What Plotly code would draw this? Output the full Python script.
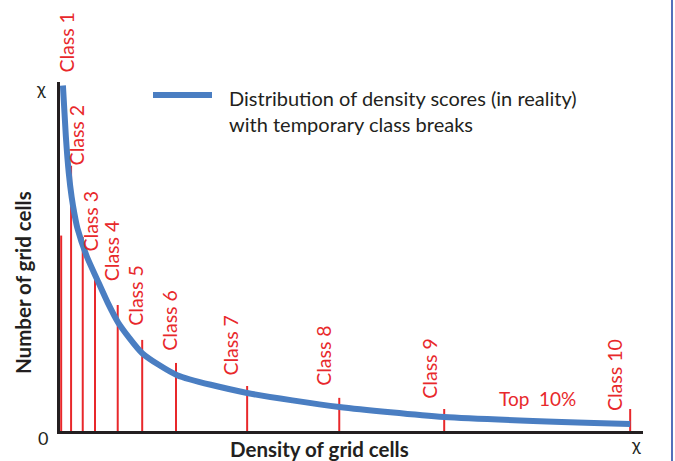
import plotly.graph_objects as go

# ---- data (arbitrary units: x = density of grid cells, y = number of grid cells, 100 = χ) ----
curve_x = [0.5, 1.0, 1.5, 2.0, 2.5, 3.0, 4.6, 6.4, 8.2, 10.0, 14.1, 20.1, 32.1, 47.9, 65.9, 97.8]
curve_y = [99.0, 84.5, 74.0, 67.0, 62.0, 58.0, 50.0, 43.3, 36.7, 31.0, 22.3, 16.0, 10.9, 6.9, 4.0, 2.0]

break_x = [0.2, 1.9, 3.9, 6.0, 9.9, 14.1, 19.9, 32.1, 47.9, 65.9, 97.8]
break_h = [56.0, 76.0, 55.6, 46.1, 36.1, 26.1, 19.5, 12.9, 9.5, 6.3, 6.3]

class_labels = ["Class 1", "Class 2", "Class 3", "Class 4", "Class 5",
                "Class 6", "Class 7", "Class 8", "Class 9", "Class 10"]

legend_text = "Distribution of density scores (in reality)<br>with temporary class breaks"
x_title = "Density of grid cells"
y_title = "Number of grid cells"

# ---- styles ----
RED = "#e8282b"
BLUE = "#4a7ec2"
DARK = "#231f20"
FONT = "Lato"

# label placement (layout only)
LABEL_XSHIFT = [-5, -6, -4, -6, -7, -6, -17, -16, -15, -15]
LABEL_Y = [102, 75.6, 51.0, 42.4, 29.5, 22.3, 15.2, 12.3, 8.6, 5.2]

Y_MAX = 100.0

fig = go.Figure()

# class-break markers
bx, by = [], []
for x, h in zip(break_x, break_h):
    bx += [x, x, None]
    by += [0, h, None]
fig.add_trace(go.Scatter(x=bx, y=by, mode="lines", line=dict(color=RED, width=2),
                         hoverinfo="skip", showlegend=False, cliponaxis=False))

# distribution curve
fig.add_trace(go.Scatter(x=curve_x, y=curve_y, mode="lines",
                         line=dict(color=BLUE, width=6, shape="spline", smoothing=0.6),
                         name="Distribution of density scores (in reality) with temporary class breaks",
                         showlegend=False, cliponaxis=False))

annotations = []
for i, lab in enumerate(class_labels):
    annotations.append(dict(x=break_x[i + 1], y=LABEL_Y[i] / Y_MAX, xref="x", yref="paper",
                            text=lab, textangle=-90, showarrow=False,
                            xanchor="center", yanchor="bottom", xshift=LABEL_XSHIFT[i],
                            font=dict(family=FONT, size=19.5, color=RED)))

# Top 10% label between the last two breaks
annotations.append(dict(x=(break_x[-2] + break_x[-1]) / 2, y=9.2, xref="x", yref="y",
                        text="Top  10%", showarrow=False, xanchor="center", yanchor="middle",
                        font=dict(family=FONT, size=19, color=RED)))

# axis end labels
annotations += [
    dict(x=0, y=100, xref="x", yref="y", text="χ", showarrow=False, xanchor="right",
         yanchor="middle", xshift=-12, yshift=-6, font=dict(family=FONT, size=18, color=DARK)),
    dict(x=0, y=0, xref="x", yref="y", text="0", showarrow=False, xanchor="right",
         yanchor="middle", xshift=-10, yshift=-7, font=dict(family=FONT, size=18, color=DARK)),
    dict(x=100, y=0, xref="x", yref="y", text="χ", showarrow=False, xanchor="center",
         yanchor="top", xshift=-7, yshift=0, font=dict(family=FONT, size=18, color=DARK)),
]

# axis titles
annotations += [
    dict(x=319, y=449, xref="paper", yref="paper", text=f"<b>{x_title}</b>", showarrow=False,
         xanchor="center", yanchor="middle",
         font=dict(family=FONT, size=20.5, color=DARK)),
    dict(x=23, y=283, xref="paper", yref="paper", text=f"<b>{y_title}</b>", showarrow=False,
         xanchor="center", yanchor="middle",
         textangle=-90, font=dict(family=FONT, size=20.5, color=DARK)),
]

# legend text
annotations.append(dict(x=227, y=111, xref="paper", yref="paper", text=legend_text,
                        showarrow=False, xanchor="left", yanchor="middle", align="left",
                        font=dict(family=FONT, size=20, color=DARK)))

# convert pixel-placed paper annotations
W, H = 675, 461
L, R, T, B = 60, 32, 82, 30
pw, ph = W - L - R, H - T - B
for a in annotations:
    if a["xref"] == "paper":
        a["x"] = (a["x"] - L) / pw
        a["y"] = (H - B - a["y"]) / ph

shapes = [
    # legend line sample
    dict(type="line", xref="paper", yref="paper",
         x0=(153 - L) / pw, x1=(212 - L) / pw, y0=(H - B - 95) / ph, y1=(H - B - 95) / ph,
         line=dict(color=BLUE, width=6)),
    # right border
    dict(type="line", xref="paper", yref="paper",
         x0=(672 - L) / pw, x1=(672 - L) / pw, y0=(H - B - 0) / ph, y1=(H - B - 461) / ph,
         line=dict(color="#5270bb", width=2)),
]

fig.update_layout(
    width=W, height=H,
    margin=dict(l=L, r=R, t=T, b=B, pad=0),
    paper_bgcolor="white", plot_bgcolor="white",
    showlegend=False,
    xaxis=dict(range=[0, 100], showline=True, linecolor=DARK, linewidth=3,
               showgrid=False, zeroline=False, showticklabels=False, ticks="", fixedrange=True),
    yaxis=dict(range=[0, Y_MAX], showline=True, linecolor=DARK, linewidth=3,
               showgrid=False, zeroline=False, showticklabels=False, ticks="", fixedrange=True),
    annotations=annotations,
    shapes=shapes,
)

fig.write_html("out.html", config={"displayModeBar": False},
               post_script="document.body.style.margin='0px';")
